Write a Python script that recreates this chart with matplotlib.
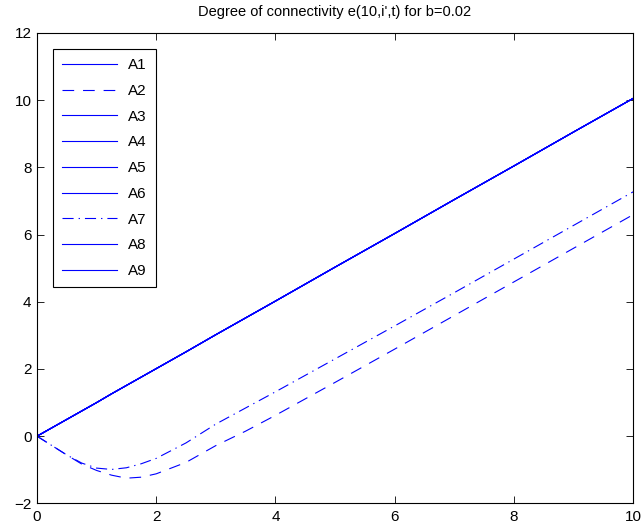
import matplotlib
matplotlib.use('Agg')
import matplotlib.pyplot as plt
import numpy as np

plt.rcParams['font.family'] = ['Liberation Sans', 'DejaVu Sans']
plt.rcParams['font.size'] = 11
plt.rcParams['axes.unicode_minus'] = True

# time samples
t = [0, 0.25, 0.5, 0.75, 1.0, 1.25, 1.5, 1.75, 2.0, 2.5, 3.0, 3.5,
     4.0, 5.0, 6.0, 7.0, 8.0, 9.0, 10.0]

# straight curves (A1, A3-A6, A8, A9 overlap)
straight = [0, 0.25, 0.50, 0.75, 1.00, 1.26, 1.51, 1.76, 2.01, 2.51, 3.02,
            3.52, 4.02, 5.03, 6.03, 7.04, 8.04, 9.05, 10.05]

# A2 (dashed)
a2 = [0, -0.28, -0.56, -0.83, -1.02, -1.16, -1.25, -1.22, -1.12, -0.78,
      -0.28, 0.15, 0.62, 1.60, 2.59, 3.59, 4.59, 5.59, 6.59]

# A7 (dash-dot)
a7 = [0, -0.28, -0.56, -0.80, -0.95, -0.99, -0.94, -0.82, -0.66, -0.20,
      0.36, 0.84, 1.32, 2.30, 3.28, 4.27, 5.27, 6.27, 7.27]

labels = ['A1', 'A2', 'A3', 'A4', 'A5', 'A6', 'A7', 'A8', 'A9']

fig = plt.figure(figsize=(6.44, 5.31), dpi=100)
ax = fig.add_axes([0.0575, 0.052, 0.9255, 0.886])

lw = 0.8
blue = '#0000ff'
for lab in labels:
    if lab == 'A2':
        ax.plot(t, a2, color=blue, lw=lw, dashes=(10.5, 8), label=lab)
    elif lab == 'A7':
        ax.plot(t, a7, color=blue, lw=lw, dashes=(10, 4.5, 1.2, 4.5), label=lab)
    else:
        ax.plot(t, straight, color=blue, lw=lw, label=lab)

ax.set_xlim(0, 10)
ax.set_ylim(-2, 12)
ax.set_xticks(np.arange(0, 11, 2))
ax.set_yticks(np.arange(-2, 13, 2))
ax.tick_params(direction='in', top=True, right=True, length=5, width=0.6,
               labelsize=11)
ax.tick_params(axis='x', pad=5)
ax.tick_params(axis='y', pad=4)
for s in ax.spines.values():
    s.set_linewidth(0.8)

ax.set_title("Degree of connectivity e(10,i',t) for b=0.02", fontsize=10.5, pad=12)

leg = ax.legend(loc='upper left', bbox_to_anchor=(0.027, 0.966), fancybox=False,
                edgecolor='black', framealpha=1, handlelength=3.6,
                handletextpad=0.72, labelspacing=0.77, borderpad=0.6,
                borderaxespad=0, fontsize=11)
leg.get_frame().set_linewidth(0.8)

fig.savefig('out.png', dpi=100)
